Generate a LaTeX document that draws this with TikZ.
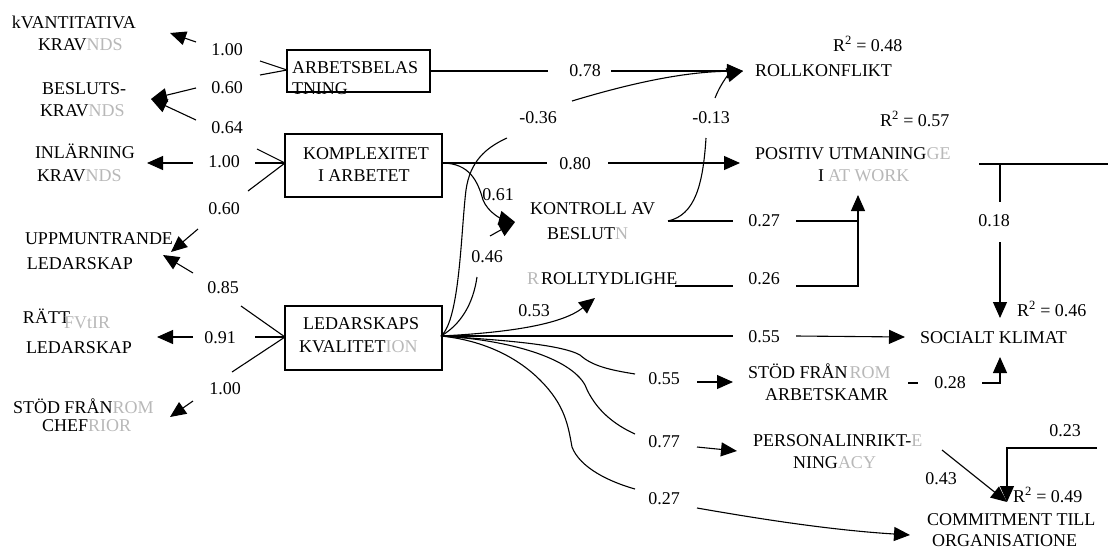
\documentclass[tikz,border=0pt]{standalone}
\usepackage{fontspec}
\setmainfont{Liberation Serif}
\usetikzlibrary{arrows.meta}
\begin{document}
\begin{tikzpicture}[x=1pt,y=-1pt,
  every node/.style={inner sep=0pt, outer sep=0pt, font=\fontsize{18}{20}\selectfont},
  txt/.style={anchor=west, text height=12pt, text depth=0pt},
  txtg/.style={txt, text=black!28},
  lab/.style={text height=12pt, text depth=0pt},
  boxst/.style={draw, line width=1.2pt, rectangle},
  ln/.style={line width=1.1pt},
  arr/.style={ln, -{Triangle[length=16pt,width=14pt]}},
]
\useasboundingbox (0,0) rectangle (1108,552);

% ---------- boxes ----------
\node[boxst, minimum width=143pt, minimum height=42pt] (arb) at (358.5,71) {};
\node[boxst, minimum width=157pt, minimum height=63pt] (kom) at (363.5,165.5) {};
\node[boxst, minimum width=157pt, minimum height=64pt] (led) at (363.5,338) {};
\node[txt] (arbA) at (292,67) {ARBETSBELAS};
\node[txt] (arbB) at (292,88) {TNING};
\node[txt] (komA) at (303,153) {KOMPLEXITET};
\node[txt] (komB) at (318,175) {I ARBETET};
\node[txt] (ledA) at (303,323) {LEDARSKAPS};
\node[txt] (ledB) at (299,346) {KVALITET};
\node[txtg] (ledG) at (ledB.east) {ION};

% ---------- left nodes ----------
\node[txt] (kq1) at (12,22) {kVANTITATIVA};
\node[txt] (kq2) at (38,44) {KRAV};
\node[txtg] (kq2g) at (kq2.east) {NDS};
\node[txt] (bk1) at (42,88) {BESLUTS-};
\node[txt] (bk2) at (40,110) {KRAV};
\node[txtg] (bk2g) at (bk2.east) {NDS};
\node[txt] (il1) at (35,152) {INLÄRNING};
\node[txt] (il2) at (37,175) {KRAV};
\node[txtg] (il2g) at (il2.east) {NDS};
\node[txt] (ul1) at (25,238) {UPPMUNTRANDE};
\node[txt] (ul2) at (27,263) {LEDARSKAP};
\node[txt] (rl1) at (23,317) {RÄTT};
\node[txtg] (rl1g) at (64,322) {FVtIR};
\node[txt] (rl2) at (26,347) {LEDARSKAP};
\node[txt] (sc1) at (13,407) {STÖD FRÅN};
\node[txtg] (sc1g) at (sc1.east) {ROM};
\node[txt] (sc2) at (42,425) {CHEF};
\node[txtg] (sc2g) at (sc2.east) {RIOR};

% ---------- left labels ----------
\node[lab] (l1) at (227,49) {1.00};
\node[lab] (l2) at (227,87) {0.60};
\node[lab] (l3) at (227,127) {0.64};
\node[lab] (l4) at (224,161) {1.00};
\node[lab] (l5) at (224,208) {0.60};
\node[lab] (l6) at (223,287) {0.85};
\node[lab] (l7) at (220,337) {0.91};
\node[lab] (l8) at (225,388) {1.00};

% ---------- left connectors ----------
\coordinate (pA) at (287,70);
\coordinate (pK) at (285,163);
\coordinate (pL) at (285,337);
\coordinate (e1a) at (260,61);  \coordinate (e1b) at (196,42);  \coordinate (e1t) at (170,33);
\coordinate (e2a) at (260,75);  \coordinate (e2b) at (196,88);  \coordinate (e2t) at (151,99);
\coordinate (e3a) at (257,149); \coordinate (e3b) at (196,120);
\coordinate (e4a) at (255,163); \coordinate (e4b) at (193,163); \coordinate (e4t) at (147,163);
\coordinate (e5a) at (248,191); \coordinate (e5b) at (198,229); \coordinate (e5t) at (171,252);
\coordinate (e6a) at (241,306); \coordinate (e6b) at (193,273); \coordinate (e6t) at (163,255);
\coordinate (e7a) at (255,337); \coordinate (e7b) at (193,337); \coordinate (e7t) at (157,337);
\coordinate (e8a) at (232,372); \coordinate (e8b) at (193,401); \coordinate (e8t) at (170,417);
\draw[ln] (pA) -- (e1a); \draw[arr] (e1b) -- (e1t);
\draw[ln] (pA) -- (e2a); \draw[arr] (e2b) -- (e2t);
\draw[ln] (pK) -- (e3a); \draw[arr] (e3b) -- (e2t);
\draw[ln] (pK) -- (e4a); \draw[arr] (e4b) -- (e4t);
\draw[ln] (pK) -- (e5a); \draw[arr] (e5b) -- (e5t);
\draw[ln] (pL) -- (e6a); \draw[arr] (e6b) -- (e6t);
\draw[ln] (pL) -- (e7a); \draw[arr] (e7b) -- (e7t);
\draw[ln] (pL) -- (e8a); \draw[arr] (e8b) -- (e8t);

% ---------- right nodes ----------
\node[txt] (rk) at (755,70) {ROLLKONFLIKT};
\node[txt] (r1) at (833,45) {R\textsuperscript{2} = 0.48};
\node[txt] (pu1) at (755,153) {POSITIV UTMANING};
\node[txtg] (pu1g) at (pu1.east) {GE};
\node[txt] (pu2) at (818,175) {I};
\node[txtg] (pu2g) at ([xshift=4pt]pu2.east) {AT WORK};
\node[txt] (r2) at (880,120) {R\textsuperscript{2} = 0.57};
\node[txt] (kb1) at (530,208) {KONTROLL AV};
\node[txt] (kb2) at (547,233) {BESLUT};
\node[txtg] (kb2g) at (kb2.east) {N};
\node[txtg] (rtg) at (527,278) {R};
\node[txt] (rt) at (541,278) {ROLLTYDLIGHE};
\node[txt] (sk) at (920,337) {SOCIALT KLIMAT};
\node[txt] (r3) at (1017,310) {R\textsuperscript{2} = 0.46};
\node[txt] (sa1) at (748,372) {STÖD FRÅN};
\node[txtg] (sa1g) at ([xshift=2pt]sa1.east) {ROM};
\node[txt] (sa2) at (765,394) {ARBETSKAMR};
\node[txt] (pi1) at (753,440) {PERSONALINRIKT-};
\node[txtg] (pi1g) at (pi1.east) {E};
\node[txt] (pi2) at (793,462) {NING};
\node[txtg] (pi2g) at (pi2.east) {ACY};
\node[txt] (r4) at (1013,496) {R\textsuperscript{2} = 0.49};
\node[txt] (co1) at (927,519) {COMMITMENT TILL};
\node[txt] (co2) at (932,540) {ORGANISATIONE};

% ---------- right labels ----------
\node[lab] (m1) at (585,70) {0.78};
\node[lab] (m2) at (538,117) {-0.36};
\node[lab] (m3) at (711,117) {-0.13};
\node[lab] (m4) at (575,163) {0.80};
\node[lab] (m5) at (498,194) {0.61};
\node[lab] (m6) at (487,256) {0.46};
\node[lab] (m7) at (534,310) {0.53};
\node[lab] (m8) at (764,220) {0.27};
\node[lab] (m9) at (764,278) {0.26};
\node[lab] (m10) at (764,336) {0.55};
\node[lab] (m11) at (664,378) {0.55};
\node[lab] (m12) at (994,220) {0.18};
\node[lab] (m13) at (950,382) {0.28};
\node[lab] (m14) at (664,441) {0.77};
\node[lab] (m15) at (664,498) {0.27};
\node[lab] (m16) at (1065,430) {0.23};
\node[lab] (m17) at (941,478) {0.43};

% ---------- right connectors ----------
\coordinate (ks) at (442,163);
\coordinate (ls) at (441,336);
\coordinate (tRK) at (743,71);
\coordinate (tPU) at (740,163);
\coordinate (tKB) at (515,222);
\coordinate (tRT) at (595,298);
\coordinate (tSK) at (905,337);
\coordinate (tSA) at (733,382);
\coordinate (tPI) at (737,451);
\coordinate (tCO) at (910,535);
\coordinate (tPU2) at (858,195);
\coordinate (tSK2) at (1000,318);
\coordinate (tSK3) at (1000,357);
\coordinate (tCO2) at (1007,502);

% ARBETSBELASTNING -> ROLLKONFLIKT
\draw[ln] (arb.east |- tRK) -- (548,71);
\draw[arr] (611,71) -- (tRK);
% KOMPLEXITET -> POSITIV UTMANING
\draw[ln] (ks) -- (547,163);
\draw[arr] (608,163) -- (tPU);
% KOMPLEXITET -> KONTROLL (0.61)
\draw[arr] (ks) .. controls (470,163) and (478,182) .. (483,200) .. controls (488,212) and (500,218) .. (tKB);
% LEDARSKAP -> ROLLKONFLIKT (-0.36)
\draw[ln] (ls) .. controls (460,320) and (461,230) .. (466,190) .. controls (470,162) and (485,148) .. (507,138);
\draw[arr] (572,101) .. controls (625,85) and (680,72) .. (tRK);
% LEDARSKAP -> KONTROLL (0.46)
\draw[ln] (ls) .. controls (460,325) and (473,305) .. (477,277);
\draw[arr] (490,236) -- (tKB);
% LEDARSKAP -> ROLLTYDLIGHE (0.53)
\draw[arr] (ls) .. controls (500,333) and (560,326) .. (tRT);
% LEDARSKAP -> SOCIALT KLIMAT (0.55)
\draw[ln] (ls) -- (733,336);
\draw[arr] (796,336) -- (tSK);
% LEDARSKAP -> STÖD ARBETSKAMR (0.55)
\draw[ln] (ls) .. controls (500,340) and (560,344) .. (580,355) .. controls (592,366) and (610,370) .. (635,374);
\draw[arr] (697,382) -- (tSA);
% LEDARSKAP -> PERSONALINRIKTNING (0.77)
\draw[ln] (ls) .. controls (510,340) and (570,358) .. (585,385) .. controls (595,410) and (615,425) .. (635,434);
\draw[arr] (697,447) -- (tPI);
% LEDARSKAP -> COMMITMENT (0.27)
\draw[ln] (ls) .. controls (480,340) and (515,355) .. (540,380) .. controls (565,405) and (568,425) .. (572,447) .. controls (580,468) and (610,482) .. (635,489);
\draw[arr] (697,508) .. controls (760,519) and (830,530) .. (tCO);
% KONTROLL -> ROLLKONFLIKT (-0.13)
\coordinate (kbs) at (668,221);
\draw[ln] (kbs) .. controls (695,215) and (703,185) .. (706,138);
\draw[arr] (715,98) .. controls (720,85) and (728,75) .. (tRK);
% KONTROLL -> POSITIV (0.27), ROLLTYDLIGHE -> POSITIV (0.26)
\draw[ln] (kbs) -- (733,221);
\draw[ln] (796,221) -- (858,221);
\draw[ln] (675,286) -- (733,286);
\draw[arr] (796,286) -- (858,286) -- (tPU2);
% POSITIV -> SOCIALT (0.18)
\draw[ln] (979,164) -- (1108,164);
\draw[ln] (1000,164) -- (1000,202);
\draw[arr] (1000,242) -- (tSK2);
% STÖD ARBETSKAMR -> SOCIALT (0.28)
\draw[ln] (908,383) -- (918,383);
\draw[arr] (982,383) -- (1000,383) -- (tSK3);
% PERSONALINRIKTNING -> COMMITMENT (0.43), 0.23
\draw[arr] (942,450) -- (tCO2);
\draw[arr] (1097,448) -- (1007,448) -- (tCO2);
\end{tikzpicture}
\end{document}
